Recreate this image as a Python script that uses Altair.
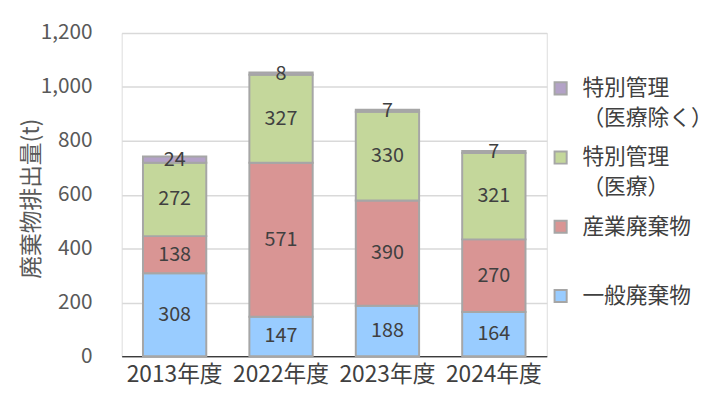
import altair as alt
import pandas as pd

years = ["2013年度", "2022年度", "2023年度", "2024年度"]
series = ["一般廃棄物", "産業廃棄物", "特別管理（医療）", "特別管理（医療除く）"]
ippan = [308, 147, 188, 164]
sangyo = [138, 571, 390, 270]
iryo = [272, 327, 330, 321]
iryo_nozoku = [24, 8, 7, 7]
colors = ["#99CCFF", "#D99594", "#C4D79B", "#B3A2C7"]

vals = [ippan, sangyo, iryo, iryo_nozoku]
rows = []
for si, s in enumerate(series):
    for yi, y in enumerate(years):
        rows.append({"year": y, "series": s, "value": vals[si][yi], "order": si})
df = pd.DataFrame(rows)

FONT = "Noto Sans CJK JP"

label_expr = (
    "datum.label == '特別管理（医療除く）' ? ['特別管理', '（医療除く）'] : "
    "datum.label == '特別管理（医療）' ? ['特別管理', '（医療）'] : "
    "[' ' + datum.label, '']"
)

base = alt.Chart(df).encode(
    x=alt.X("year:N", sort=years,
            scale=alt.Scale(paddingInner=0.405, paddingOuter=0.2),
            axis=alt.Axis(title=None, labelAngle=0, labelFontSize=23,
                          labelColor="#404040", labelPadding=8, ticks=False,
                          domainColor="#000000", domainWidth=1, labelFont=FONT)),
    y=alt.Y("value:Q", stack="zero",
            scale=alt.Scale(domain=[0, 1200]),
            axis=alt.Axis(title="廃棄物排出量(t)", values=[0, 200, 400, 600, 800, 1000, 1200],
                          format=",.0f", labelFontSize=21, labelColor="#595959",
                          labelPadding=30, ticks=False, domain=False,
                          gridColor="#D9D9D9", gridWidth=1.5,
                          titleFontSize=23, titleColor="#595959", titleFontWeight="normal",
                          titleX=-91, titleY=167, titleAngle=270,
                          titleAlign="center", titleBaseline="middle",
                          labelFont=FONT, titleFont=FONT)),
    order=alt.Order("order:Q"),
)

bars = base.mark_bar(stroke="#A6A6A6", strokeWidth=2).encode(
    color=alt.Color("series:N", sort=series[::-1],
                    scale=alt.Scale(domain=series[::-1], range=colors[::-1]),
                    legend=alt.Legend(title=None, orient="none", legendX=433, legendY=45,
                                      symbolType="square", symbolSize=150,
                                      symbolStrokeColor="#A6A6A6", symbolStrokeWidth=2,
                                      labelFontSize=22, labelColor="#404040",
                                      labelFont=FONT,
                                      labelExpr=label_expr, labelLimit=400,
                                      rowPadding=18, symbolOffset=0, labelOffset=11)),
)

texts = base.mark_text(fontSize=20, color="#404040", font=FONT, baseline="middle").encode(
    y=alt.Y("value:Q", stack="zero", bandPosition=0.5),
    text=alt.Text("value:Q"),
)

chart = alt.layer(bars, texts).properties(
    width=430, height=327,
    autosize=alt.AutoSizeParams(type="none"),
    padding={"left": 115, "top": 23, "right": 157, "bottom": 49},
).configure_view(stroke=None).configure(
    background="white",
    style={"guide-label": {"lineHeight": 30}},
)

chart.save("out.html", embed_options={"renderer": "svg", "actions": False})
